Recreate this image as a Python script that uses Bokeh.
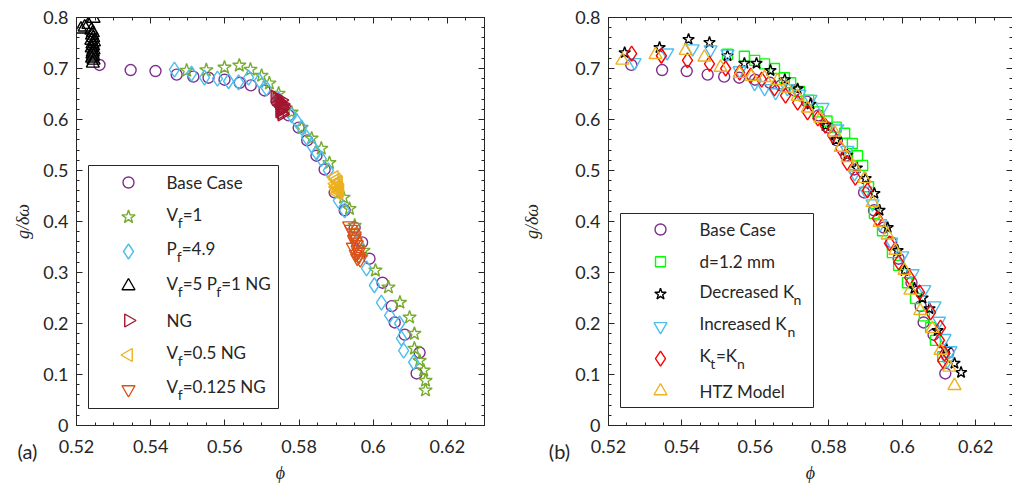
from bokeh.plotting import figure
from bokeh.layouts import row
from bokeh.models import FixedTicker, LinearAxis, Range1d, CustomJSTickFormatter
from bokeh.core.properties import value
from bokeh.embed import file_html
from bokeh.resources import INLINE
import math

# ---------------- data (panel a) ----------------
base_phi = [0.5262,0.5346,0.5413,0.5470,0.5515,0.5556,0.5599,0.5640,0.5670,0.5707,0.5740,0.5772,0.5799,0.5822,0.5847,0.5869,0.5896,0.5923,0.5950,0.5970,0.5990,0.6025,0.6050,0.6058,0.6085,0.6125,0.6117]
base_g   = [0.707,0.697,0.695,0.688,0.684,0.682,0.678,0.672,0.667,0.657,0.635,0.608,0.584,0.559,0.529,0.502,0.457,0.422,0.388,0.359,0.327,0.280,0.234,0.202,0.178,0.143,0.102]

vf1_phi = [0.5497,0.5550,0.5599,0.5639,0.5669,0.5699,0.5720,0.5745,0.5780,0.5807,0.5834,0.5860,0.5882,0.5920,0.5936,0.5950,0.5974,0.6006,0.6041,0.6072,0.6098,0.6111,0.6111,0.6125,0.6136,0.6141,0.6141]
vf1_g   = [0.696,0.697,0.702,0.706,0.698,0.686,0.671,0.651,0.614,0.584,0.563,0.543,0.515,0.447,0.425,0.392,0.343,0.304,0.271,0.241,0.212,0.180,0.151,0.127,0.108,0.088,0.069]

pf49_phi = [0.5464,0.5510,0.5545,0.5580,0.5610,0.5637,0.5664,0.5693,0.5712,0.5745,0.5780,0.5793,0.5807,0.5820,0.5834,0.5847,0.5860,0.5879,0.5906,0.5923,0.5960,0.5982,0.6003,0.6022,0.6044,0.6071,0.6076,0.6082,0.6109]
pf49_g   = [0.698,0.690,0.682,0.680,0.675,0.673,0.682,0.676,0.661,0.640,0.608,0.598,0.584,0.565,0.549,0.535,0.523,0.500,0.441,0.422,0.360,0.308,0.275,0.241,0.216,0.200,0.171,0.147,0.124]

vf5pf1ng_phi = [0.5212,0.5222,0.5232,0.5240,0.5246,0.5244,0.5242,0.5245,0.5240,0.5247,0.5243,0.5245,0.5241,0.5246,0.5244,0.5243,0.5245,0.5242,0.5246,0.5244]
vf5pf1ng_g   = [0.777,0.781,0.786,0.775,0.798,0.770,0.765,0.760,0.755,0.752,0.748,0.744,0.740,0.736,0.732,0.728,0.724,0.720,0.716,0.710]

ng_phi = [0.5735,0.5740,0.5745,0.5748,0.5750,0.5752,0.5755,0.5750,0.5748,0.5753,0.5756,0.5758,0.5752,0.5749,0.5754]
ng_g   = [0.645,0.640,0.636,0.632,0.628,0.625,0.622,0.619,0.616,0.613,0.630,0.626,0.638,0.620,0.610]

vf05ng_phi = [0.5895,0.5900,0.5905,0.5898,0.5903,0.5907,0.5902,0.5908,0.5904,0.5900,0.5906,0.5910]
vf05ng_g   = [0.487,0.482,0.478,0.474,0.470,0.466,0.462,0.458,0.455,0.468,0.476,0.462]

vf0125ng_phi = [0.5935,0.5940,0.5945,0.5950,0.5948,0.5952,0.5955,0.5945,0.5958,0.5960,0.5953,0.5962,0.5957,0.5965,0.5950]
vf0125ng_g   = [0.392,0.385,0.378,0.372,0.365,0.360,0.355,0.350,0.345,0.340,0.336,0.332,0.328,0.325,0.368]

# ---------------- data (panel b) ----------------
d12_phi = [0.5524,0.5570,0.5598,0.5625,0.5652,0.5679,0.5696,0.5720,0.5745,0.5770,0.5795,0.5820,0.5843,0.5864,0.5878,0.5892,0.5908,0.5924,0.5946,0.5973,0.5990,0.6014,0.6036,0.6060,0.6077,0.6090,0.6110]
d12_g   = [0.728,0.724,0.716,0.709,0.700,0.682,0.672,0.655,0.638,0.615,0.597,0.585,0.573,0.553,0.529,0.510,0.468,0.416,0.382,0.339,0.314,0.280,0.249,0.215,0.192,0.167,0.135]

deckn_phi = [0.5244,0.5339,0.5418,0.5475,0.5524,0.5570,0.5603,0.5641,0.5680,0.5715,0.5750,0.5791,0.5820,0.5850,0.5876,0.5900,0.5924,0.5938,0.5960,0.5987,0.6006,0.6033,0.6055,0.6074,0.6096,0.6120,0.6142,0.6160]
deckn_g   = [0.731,0.741,0.757,0.751,0.725,0.710,0.710,0.696,0.678,0.660,0.630,0.588,0.560,0.530,0.505,0.484,0.455,0.422,0.388,0.343,0.304,0.269,0.250,0.229,0.186,0.150,0.122,0.104]

inckn_phi = [0.5271,0.5360,0.5429,0.5478,0.5524,0.5557,0.5598,0.5625,0.5655,0.5687,0.5720,0.5750,0.5783,0.5823,0.5850,0.5870,0.5900,0.5919,0.5940,0.5970,0.6000,0.6028,0.6060,0.6088,0.6100,0.6115,0.6131,0.6123]
inckn_g   = [0.712,0.731,0.739,0.737,0.729,0.696,0.671,0.661,0.653,0.661,0.650,0.640,0.624,0.582,0.540,0.494,0.460,0.435,0.396,0.360,0.333,0.298,0.267,0.235,0.205,0.171,0.147,0.127]

ktkn_phi = [0.5263,0.5344,0.5415,0.5475,0.5519,0.5557,0.5587,0.5617,0.5652,0.5682,0.5715,0.5742,0.5770,0.5790,0.5810,0.5832,0.5850,0.5872,0.5905,0.5932,0.5965,0.5990,0.6020,0.6047,0.6077,0.6104,0.6101,0.6115,0.6110]
ktkn_g   = [0.729,0.725,0.716,0.709,0.700,0.692,0.686,0.678,0.661,0.647,0.633,0.614,0.602,0.588,0.569,0.543,0.515,0.486,0.461,0.406,0.357,0.320,0.290,0.261,0.222,0.192,0.167,0.141,0.127]

htz_phi = [0.5238,0.5328,0.5410,0.5461,0.5505,0.5557,0.5589,0.5625,0.5660,0.5687,0.5715,0.5742,0.5777,0.5815,0.5832,0.5851,0.5870,0.5897,0.5919,0.5938,0.5960,0.5981,0.6006,0.6022,0.6049,0.6082,0.6104,0.6128,0.6142]
htz_g   = [0.716,0.727,0.735,0.722,0.702,0.690,0.684,0.682,0.676,0.661,0.645,0.622,0.602,0.575,0.545,0.525,0.506,0.484,0.437,0.398,0.373,0.343,0.304,0.265,0.225,0.190,0.147,0.114,0.078]

# ---------------- axes ----------------
x_ticks = [0.52, 0.54, 0.56, 0.58, 0.60, 0.62]
x_tick_labels = ["0.52", "0.54", "0.56", "0.58", "0.6", "0.62"]
y_ticks = [0.0, 0.1, 0.2, 0.3, 0.4, 0.5, 0.6, 0.7, 0.8]
y_tick_labels = ["0", "0.1", "0.2", "0.3", "0.4", "0.5", "0.6", "0.7", "0.8"]
x_minor = [0.52 + 0.005 * i for i in range(23)]
y_minor = [0.02 * i for i in range(41)]
X_RANGE = (0.52, 0.63)
Y_RANGE = (0.0, 0.8)
x_title = "\u03d5"
y_title = "g/\u03b4\u03c9"
panel_tags = ["(a)", "(b)"]

FONT = "Lato"
INK = "#262626"
FH = 408
H = 488
TOP = 17
BOTTOM = H - FH - TOP

PURPLE = "#7E2F8E"; GREEN = "#77AC30"; LBLUE = "#4DBEEE"; DRED = "#A2142F"
YEL = "#EDB120"; ORG = "#D95319"; BGREEN = "#00FF00"; RED = "#FF0000"

# series: (phi, g, marker, angle, color, size, legend pieces)
panel_a = [
    (base_phi, base_g, "circle", 0, PURPLE, 11, [("Base Case", 0)]),
    (vf1_phi, vf1_g, "star", 0, GREEN, 14, [("V", 0), ("f", 1), ("=1", 0)]),
    (pf49_phi, pf49_g, "diamond", 0, LBLUE, 15, [("P", 0), ("f", 1), ("=4.9", 0)]),
    (vf5pf1ng_phi, vf5pf1ng_g, "triangle", 0, "#000000", 13, [("V", 0), ("f", 1), ("=5 P", 0), ("f", 1), ("=1 NG", 0)]),
    (ng_phi, ng_g, "triangle", -math.pi / 2, DRED, 13, [("NG", 0)]),
    (vf05ng_phi, vf05ng_g, "triangle", math.pi / 2, YEL, 13, [("V", 0), ("f", 1), ("=0.5 NG", 0)]),
    (vf0125ng_phi, vf0125ng_g, "inverted_triangle", 0, ORG, 13, [("V", 0), ("f", 1), ("=0.125 NG", 0)]),
]
panel_b = [
    (base_phi, base_g, "circle", 0, PURPLE, 11, [("Base Case", 0)]),
    (d12_phi, d12_g, "square", 0, BGREEN, 10, [("d=1.2 mm", 0)]),
    (deckn_phi, deckn_g, "star", 0, "#000000", 12, [("Decreased K", 0), ("n", 1)]),
    (inckn_phi, inckn_g, "inverted_triangle", 0, LBLUE, 13, [("Increased K", 0), ("n", 1)]),
    (ktkn_phi, ktkn_g, "diamond", 0, RED, 15, [("K", 0), ("t", 1), ("=K", 0), ("n", 1)]),
    (htz_phi, htz_g, "triangle", 0, YEL, 13, [("HTZ Model", 0)]),
]

# approximate advance widths (px) of text pieces (main 17px / subscript 14px)
W_MAIN = {"V": 11.2, "P": 10.2, "K": 10.8, "=5 P": 33.5, "=K": 21.0,
          "Decreased K": 94.0, "Increased K": 88.0}
W_SUB = {"f": 5.0, "t": 5.6, "n": 8.2}


def style_axis(ax, ticks, minor, labels):
    ax.ticker = FixedTicker(ticks=ticks, minor_ticks=minor)
    ax.major_tick_in = 6
    ax.major_tick_out = 0
    ax.minor_tick_in = 3
    ax.minor_tick_out = 0
    ax.axis_line_color = INK
    ax.major_tick_line_color = INK
    ax.minor_tick_line_color = INK
    if labels is None:
        ax.formatter = CustomJSTickFormatter(code="return '';")
        ax.major_label_text_font_size = "1px"
        ax.major_label_standoff = 0
    else:
        ax.formatter = CustomJSTickFormatter(
            args=dict(tv=ticks, tl=labels),
            code="for (let i = 0; i < tv.length; i++) { if (Math.abs(tv[i] - tick) < 1e-9) return tl[i]; } return '';")
        ax.major_label_text_font = FONT
        ax.major_label_text_font_size = "18px"
        ax.major_label_text_color = INK


def make_strip(width, ylab_x, tag_x, tag):
    """Narrow strip left of a panel carrying the y-axis title and the panel tag.
    Its frame is aligned with the panel frames by the row layout."""
    s = figure(width=width, height=H, x_range=Range1d(0, width), y_range=Range1d(0, FH),
               min_border_left=0, min_border_right=0,
               min_border_top=TOP, min_border_bottom=BOTTOM, y_axis_type=None,
               output_backend="svg", toolbar_location=None)
    s.grid.visible = False
    s.outline_line_color = None
    ax = s.xaxis[0]
    ax.ticker = FixedTicker(ticks=[tag_x], minor_ticks=[])
    ax.formatter = CustomJSTickFormatter(args=dict(tag=tag), code="return tag;")
    ax.axis_line_color = None
    ax.major_tick_line_color = None
    ax.minor_tick_line_color = None
    ax.major_tick_in = 0
    ax.major_tick_out = 0
    ax.minor_tick_in = 0
    ax.minor_tick_out = 0
    ax.major_label_text_font = FONT
    ax.major_label_text_font_size = "20px"
    ax.major_label_text_color = INK
    ax.major_label_standoff = 13
    s.text([ylab_x], [FH / 2], text=[y_title], angle=math.pi / 2,
           text_font=value("Liberation Serif"), text_font_style="italic",
           text_font_size=value("18px"), text_align="center", text_baseline="middle",
           text_color=INK)
    return s


def make_panel(series, fw, border_left, border_right, leg):
    p = figure(frame_width=fw, frame_height=FH,
               min_border_left=border_left, min_border_right=border_right,
               min_border_top=TOP, min_border_bottom=BOTTOM,
               x_range=Range1d(*X_RANGE), y_range=Range1d(*Y_RANGE),
               output_backend="svg", toolbar_location=None)
    p.xgrid.visible = False
    p.ygrid.visible = False
    p.outline_line_color = INK
    p.background_fill_color = "white"
    p.border_fill_color = "white"

    style_axis(p.xaxis[0], x_ticks, x_minor, x_tick_labels)
    style_axis(p.yaxis[0], y_ticks, y_minor, y_tick_labels)
    p.xaxis[0].major_label_standoff = 14
    p.yaxis[0].major_label_standoff = 8
    p.xaxis[0].axis_label = x_title
    p.xaxis[0].axis_label_text_font = "Liberation Serif"
    p.xaxis[0].axis_label_text_font_style = "italic"
    p.xaxis[0].axis_label_text_font_size = "18px"
    p.xaxis[0].axis_label_text_color = INK
    p.xaxis[0].axis_label_standoff = 7

    top = LinearAxis()
    style_axis(top, x_ticks, x_minor, None)
    p.add_layout(top, "above")
    right = LinearAxis()
    style_axis(right, y_ticks, y_minor, None)
    p.add_layout(right, "right")

    # data
    for phi, g, mk, ang, col, sz, _ in series:
        p.scatter(phi, g, marker=mk, angle=ang, size=sz, fill_color=None,
                  line_color=col, line_width=1.4)

    # legend (layout in px relative to frame)
    def fx(dx):
        return X_RANGE[0] + dx / fw * (X_RANGE[1] - X_RANGE[0])

    def fy(dy):
        return Y_RANGE[1] - dy / FH * (Y_RANGE[1] - Y_RANGE[0])

    bl, br, bt, bb, mx, tx, r0, dr = leg
    p.quad(left=fx(bl), right=fx(br), top=fy(bt), bottom=fy(bb),
           fill_color="white", line_color=INK, line_width=1)
    main_x, main_y, main_t = [], [], []
    sub_x, sub_y, sub_t = [], [], []
    for i, (_, _, mk, ang, col, sz, pieces) in enumerate(series):
        ry = r0 + i * dr
        p.scatter([fx(mx)], [fy(ry)], marker=mk, angle=ang, size=sz,
                  fill_color=None, line_color=col, line_width=1.4)
        has_sub = any(s for _, s in pieces)
        cx = tx
        for txt, s in pieces:
            if s:
                sub_x.append(fx(cx)); sub_y.append(fy(ry + 5)); sub_t.append(txt)
                cx += W_SUB.get(txt, 5.0)
            else:
                main_x.append(fx(cx)); main_y.append(fy(ry - 3 if has_sub else ry)); main_t.append(txt)
                cx += W_MAIN.get(txt, 60.0)
    p.text(main_x, main_y, text=main_t, text_font=value(FONT), text_font_size=value("17px"),
           text_baseline="middle", text_align="left", text_color=INK)
    p.text(sub_x, sub_y, text=sub_t, text_font=value(FONT), text_font_size=value("14px"),
           text_baseline="middle", text_align="left", text_color=INK)
    return p


leg_a = (12, 202, 148, 391, 52, 90, 165, 34.5)
leg_b = (12, 205, 196, 390, 52, 91, 212, 32.3)

s1 = make_strip(40, 22, 27, panel_tags[0])
p1 = make_panel(panel_a, 408, 35, 23, leg_a)
s2 = make_strip(65, 24, 52, panel_tags[1])
p2 = make_panel(panel_b, 404, 35, 2, leg_b)

layout = row(s1, p1, s2, p2)
open("out.html", "w").write(file_html(layout, INLINE))
